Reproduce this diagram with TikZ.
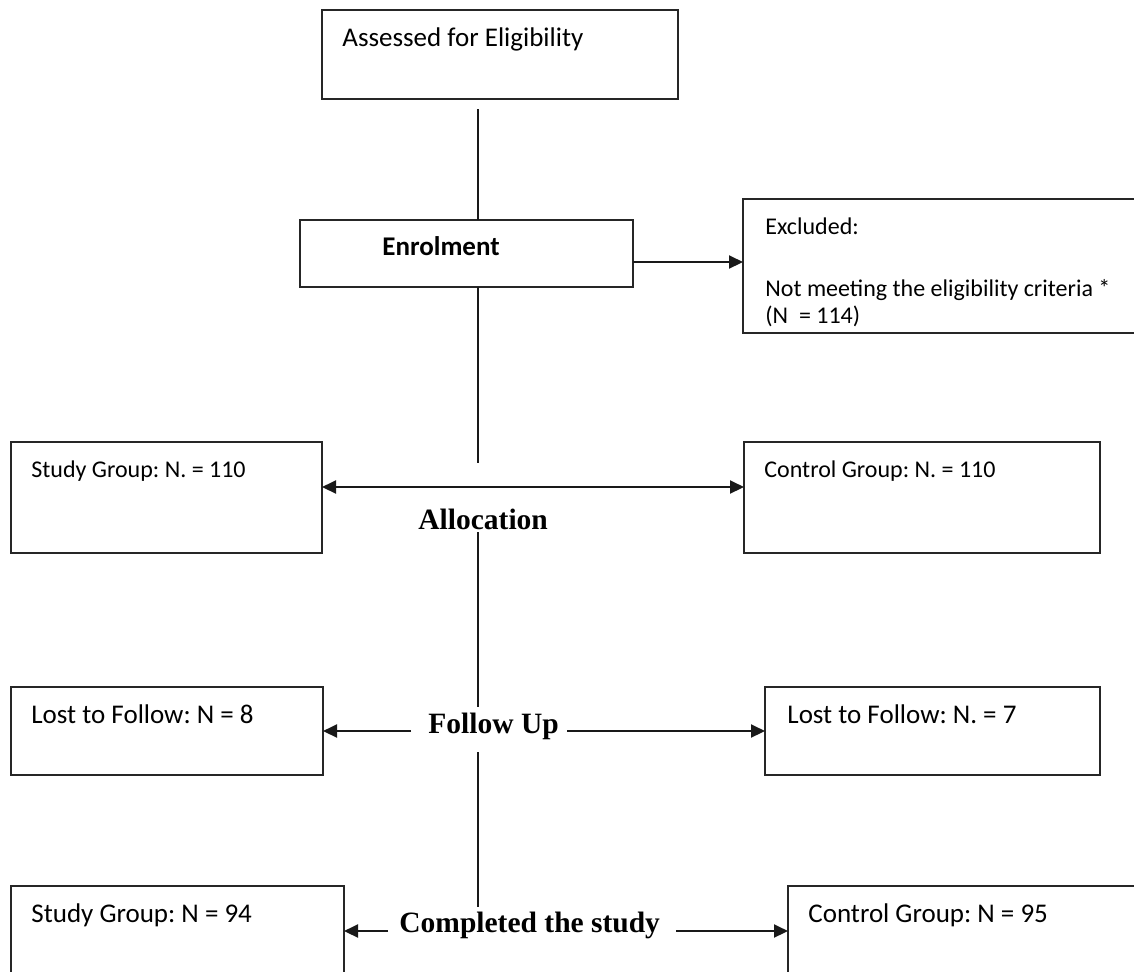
\documentclass[tikz,border=0pt]{standalone}
\usepackage{fontspec}
\setmainfont{Carlito}
\newfontfamily\labfont{Liberation Serif}
\usetikzlibrary{arrows.meta}
\begin{document}
\frenchspacing
\begin{tikzpicture}[x=0.5pt,y=-0.5pt,
  box/.style={draw=black!85, line width=1pt, inner sep=0pt, outer sep=0pt},
  txt/.style={anchor=base west, inner sep=0pt, font=\fontsize{13.5}{16}\selectfont},
  stxt/.style={anchor=base west, inner sep=0pt, font=\fontsize{12}{14}\selectfont},
  lab/.style={anchor=base west, inner sep=0pt, font=\labfont\bfseries\fontsize{14.75}{17}\selectfont},
  conn/.style={line width=1pt, black!90},
  arr/.style={conn, -{Triangle[length=7pt,width=6.5pt]}},
  darr/.style={conn, {Triangle[length=7pt,width=6.5pt]}-{Triangle[length=7pt,width=6.5pt]}}]
\useasboundingbox (0,0) rectangle (1134,971);
\clip (0,0) rectangle (1134,971);

% boxes
\node[box, minimum width=178pt, minimum height=44.5pt] (assess) at (500,54.5) {};
\node[box, minimum width=166.5pt, minimum height=33.5pt] (enrol) at (466.5,253.5) {};
\node[box, minimum width=208.5pt, minimum height=67pt] (excl) at (951.5,266) {};
\node[box, minimum width=155.5pt, minimum height=55.5pt] (study1) at (166.5,497.5) {};
\node[box, minimum width=178pt, minimum height=55.5pt] (ctrl1) at (922,497.5) {};
\node[box, minimum width=156pt, minimum height=44pt] (lost1) at (167,731) {};
\node[box, minimum width=167.5pt, minimum height=44pt] (lost2) at (932.5,731) {};
\node[box, minimum width=166.5pt, minimum height=57pt] (study2) at (177.5,943) {};
\node[box, minimum width=186pt, minimum height=57pt] (ctrl2) at (974,943) {};

% texts
\node[txt] (tassess) at (342,46) {Assessed for Eligibility};
\node[txt, font=\bfseries\fontsize{13.5}{16}\selectfont] (tenrol) at (382,255) {Enrolment};
\node[stxt] (texcl) at (765,234) {Excluded:};
\node[stxt] (texcl2) at (765,296) {Not meeting the eligibility criteria *};
\node[stxt] (texcl3) at (765,323) {(N\ \ = 114)};
\node[stxt] (tstudy1) at (31,477) {Study Group: N. = 110};
\node[stxt] (tctrl1) at (764,477) {Control Group: N. = 110};
\node[txt] (tlost1) at (31,723) {Lost to Follow: N = 8};
\node[txt] (tlost2) at (787,723) {Lost to Follow: N. = 7};
\node[txt] (tstudy2) at (31,922) {Study Group: N = 94};
\node[txt] (tctrl2) at (808,922) {Control Group: N = 95};

% stage labels
\node[lab] (alloc) at (418,529) {Allocation};
\node[lab] (follow) at (428,733.5) {Follow Up};
\node[lab] (compl) at (399,932) {Completed the study};

% coordinates
\coordinate (v1) at (478,109);
\coordinate (v2) at (478,463);
\coordinate (v3) at (478,532);
\coordinate (v4) at (478,707);
\coordinate (v5) at (478,752);
\coordinate (v6) at (478,907);
\coordinate (ey) at (0,262);
\coordinate (ay) at (0,487);
\coordinate (fl) at (411,731);
\coordinate (fr) at (567,731);
\coordinate (cl) at (388,931);
\coordinate (cr) at (676,931);

% connectors
\draw[conn] (v1) -- (v1 |- enrol.north);
\draw[conn] (v1 |- enrol.south) -- (v2);
\draw[conn] (v3) -- (v4);
\draw[conn] (v5) -- (v6);
\draw[arr] (enrol.east |- ey) -- (excl.west |- ey);
\draw[darr] (study1.east |- ay) -- (ctrl1.west |- ay);
\draw[arr] (fl) -- (lost1.east |- fl);
\draw[arr] (fr) -- (lost2.west |- fr);
\draw[arr] (cl) -- (study2.east |- cl);
\draw[arr] (cr) -- (ctrl2.west |- cr);
\end{tikzpicture}
\end{document}
